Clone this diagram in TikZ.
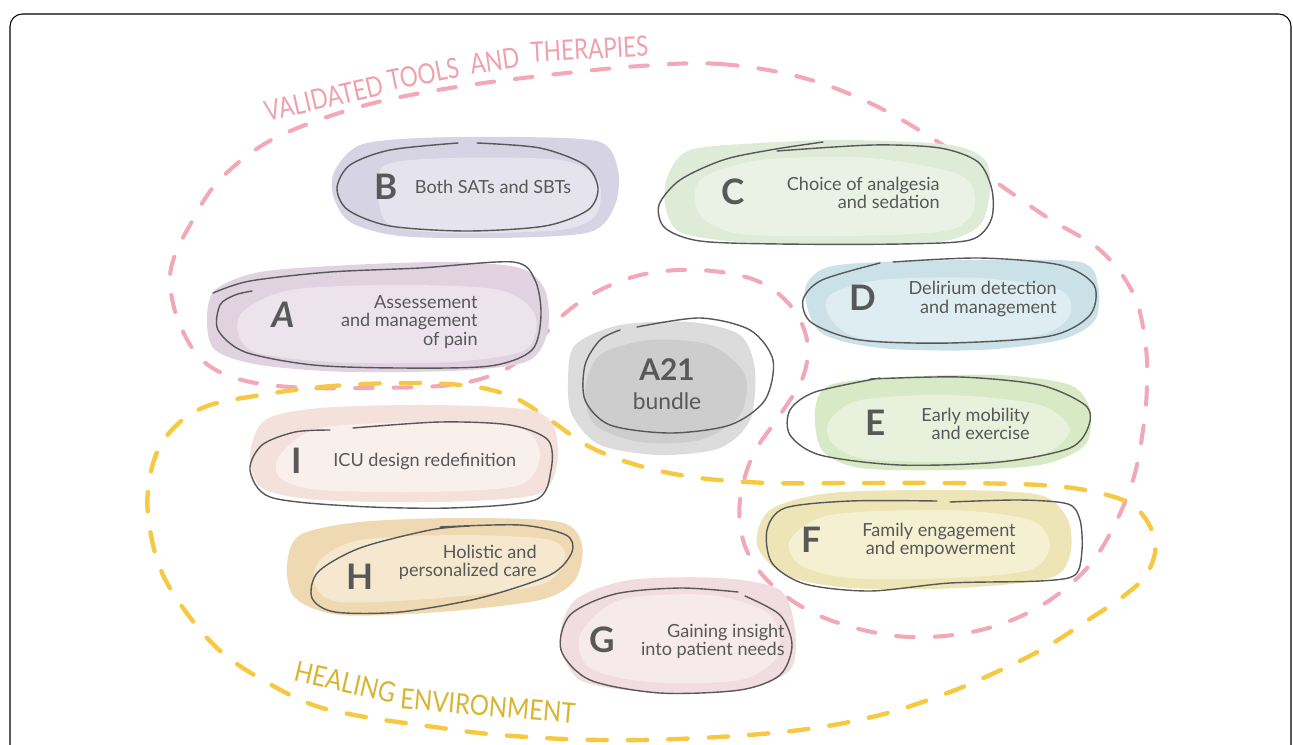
\documentclass[tikz,border=0pt]{standalone}
\usepackage{fontspec}
\setmainfont{Lato}
\definecolor{inkgray}{HTML}{585858}
\definecolor{pinkline}{HTML}{F2A8B7}
\definecolor{pinktext}{HTML}{EFA0B0}
\definecolor{yellowline}{HTML}{F7C943}
\definecolor{yellowtext}{HTML}{D8B433}
\definecolor{blobBdark}{HTML}{D5D3E4}
\definecolor{blobBlight}{HTML}{E4E3EE}
\definecolor{blobCdark}{HTML}{DDEBD7}
\definecolor{blobClight}{HTML}{E9F2E4}
\definecolor{blobAdark}{HTML}{E0D2E1}
\definecolor{blobAlight}{HTML}{ECE3EC}
\definecolor{blobDdark}{HTML}{CBE1E8}
\definecolor{blobDlight}{HTML}{DEEDF1}
\definecolor{blobEdark}{HTML}{D8E9C5}
\definecolor{blobElight}{HTML}{E7F1DB}
\definecolor{blobFdark}{HTML}{EDE5B5}
\definecolor{blobFlight}{HTML}{F5F0D2}
\definecolor{blobGdark}{HTML}{F1DCE1}
\definecolor{blobGlight}{HTML}{F7EAED}
\definecolor{blobHdark}{HTML}{EED9B3}
\definecolor{blobHlight}{HTML}{F5E8CE}
\definecolor{blobIdark}{HTML}{F4E1DB}
\definecolor{blobIlight}{HTML}{F9EFEB}
\definecolor{blobXdark}{HTML}{DCDCDC}
\definecolor{blobXlight}{HTML}{CDCDCD}

\begin{document}
\begin{tikzpicture}[x=0.02cm, y=-0.02cm,
    outline/.style={draw=inkgray, line width=0.8pt, line cap=round},
    letter/.style={text=inkgray, font=\fontsize{20}{20}\selectfont\bfseries, inner sep=0pt},
    itemtext/.style={text=inkgray, font=\fontsize{10.3}{10.3}\selectfont, align=right, inner sep=0pt},
    pinkword/.style={text=pinktext, font=\fontsize{16}{16}\selectfont, anchor=base, inner sep=0pt},
    yellowword/.style={text=yellowtext, font=\fontsize{16}{16}\selectfont, anchor=base, inner sep=0pt},
    pinkdash/.style={draw=pinkline, line width=2.3pt, line cap=round, dash pattern=on 10pt off 12pt},
    yellowdash/.style={draw=yellowline, line width=2.5pt, line cap=round, dash pattern=on 11pt off 12pt}]
  \useasboundingbox (0,0) rectangle (1293,744);
  \clip (0,0) rectangle (1293,744);
  \draw[black, line width=0.6pt, rounded corners=7pt] (10,14) rectangle (1291,790);

  % the two dashed areas
  \draw[pinkdash] plot[smooth cycle, tension=0.6] coordinates {
    (640,66) (720,64) (800,77) (870,103) (935,140) (990,178) (1048,218) (1100,250)
    (1133,293) (1145,340) (1147,385) (1143,430) (1133,480) (1112,530) (1087,568)
    (1050,600) (1007,622) (960,634) (910,637) (863,630) (820,616) (787,597) (760,572)
    (743,540) (740,500) (753,455) (780,415) (803,377) (807,340) (790,305) (755,280)
    (700,270) (645,274) (600,290) (563,315) (530,350) (500,372) (450,385) (370,388)
    (290,387) (235,378) (200,358) (178,320) (170,282) (175,255) (190,225) (215,185)
    (255,150) (300,127) (370,104) (450,88) (540,76)};
  \draw[yellowdash] plot[smooth cycle, tension=0.6] coordinates {
    (255,396) (320,387) (400,383) (470,386) (515,398) (550,420) (590,447) (640,466)
    (700,478) (770,483) (850,483) (950,483) (1040,485) (1095,492) (1135,507)
    (1155,540) (1148,572) (1125,595) (1088,620) (1048,646) (1005,668) (950,692)
    (880,715) (800,730) (700,738) (600,740) (500,735) (420,725) (360,716) (313,705)
    (268,683) (225,655) (192,620) (163,575) (150,530) (148,490) (158,450) (180,422)
    (210,405)};
  \node[pinkword, rotate=13, xscale=0.8] (validated) at (326,108) {VALIDATED};
  \node[pinkword, rotate=11, xscale=0.8] (tools) at (425,84) {TOOLS};
  \node[pinkword, rotate=8, xscale=0.8] (andword) at (496,71) {AND};
  \node[pinkword, rotate=3, xscale=0.8] (therapies) at (590,59) {THERAPIES};
  \node[yellowword, rotate=-13, xscale=0.85] (healing) at (343,692) {HEALING};
  \node[yellowword, rotate=-5, xscale=0.85] (environment) at (487,716) {ENVIRONMENT};

  % B
  \fill[blobBdark] plot[smooth cycle] coordinates {(335,170) (360,145) (420,138) (520,137)
    (600,142) (618,170) (615,205) (590,232) (500,238) (400,236) (350,222) (333,195)};
  \fill[blobBlight] plot[smooth cycle] coordinates {(385,165) (450,158) (560,160) (598,180)
    (596,215) (560,230) (450,233) (390,225) (378,195)};
  \draw[outline] plot[smooth] coordinates {(477,143) (540,148) (585,165) (598,188) (588,210)
    (545,226) (467,231) (390,226) (348,210) (337,188) (350,165) (390,150) (458,143)};
  \node[letter] (letB) at (386,187) {B};
  \node[itemtext] (txtB) at (493,187) {Both SATs and SBTs};

  % C
  \fill[blobCdark] plot[smooth cycle] coordinates {(668,175) (690,150) (760,143) (850,140)
    (950,145) (985,160) (990,190) (980,225) (940,242) (850,245) (740,242) (680,232) (665,205)};
  \fill[blobClight] plot[smooth cycle] coordinates {(700,180) (760,160) (870,158) (960,175)
    (975,205) (950,230) (850,236) (740,234) (700,215)};
  \draw[outline] plot[smooth] coordinates {(823,142) (770,150) (723,160) (680,180) (659,205)
    (665,228) (700,241) (780,244) (900,244) (970,240) (991,220) (992,190) (978,162)
    (940,148) (873,145) (777,151)};
  \node[letter] (letC) at (733,192) {C};
  \node[itemtext, anchor=east] (txtC) at (940,193) {Choice of analgesia\\and sedation};

  % A
  \fill[blobAdark] plot[smooth cycle] coordinates {(207,320) (215,290) (260,272) (350,265)
    (450,262) (520,268) (545,290) (548,330) (530,360) (470,370) (350,372) (260,365) (215,350)};
  \fill[blobAlight] plot[smooth cycle] coordinates {(240,315) (290,290) (400,285) (500,290)
    (535,315) (525,350) (450,362) (330,362) (250,350)};
  \draw[outline] plot[smooth] coordinates {(213,293) (250,281) (330,272) (420,268) (513,262)
    (535,280) (541,315) (532,350) (490,366) (400,368) (313,365) (245,352) (218,330)
    (220,305) (235,295) (252,291)};
  \node[letter, font=\fontsize{20}{20}\selectfont\bfseries\itshape] (letA) at (283,315) {A};
  \node[itemtext, anchor=east] (txtA) at (478,322) {Assessement\\and management\\of pain};

  % D
  \fill[blobDdark] plot[smooth cycle] coordinates {(805,290) (825,268) (880,262) (980,260)
    (1080,262) (1098,285) (1095,320) (1060,340) (980,350) (880,348) (820,332)};
  \fill[blobDlight] plot[smooth cycle] coordinates {(830,295) (880,280) (980,278) (1060,290)
    (1070,315) (1040,335) (950,342) (860,338) (830,318)};
  \draw[outline] plot[smooth] coordinates {(893,262) (980,258) (1060,265) (1094,285)
    (1090,315) (1050,336) (950,343) (860,340) (812,323) (803,300) (822,280) (880,263)};
  \node[letter] (letD) at (863,298) {D};
  \node[itemtext, anchor=east] (txtD) at (1057,299) {Delirium detection\\and management};

  % A21 bundle
  \fill[blobXdark] plot[smooth cycle] coordinates {(568,380) (575,345) (620,325) (690,322)
    (740,335) (755,370) (750,420) (720,448) (660,455) (600,445) (572,415)};
  \fill[blobXlight] plot[smooth cycle] coordinates {(585,390) (600,355) (650,340) (710,345)
    (745,375) (740,415) (700,440) (640,442) (595,425)};
  \draw[outline] plot[smooth] coordinates {(637,327) (700,318) (750,330) (773,360) (765,400)
    (730,425) (670,433) (610,425) (585,400) (585,365) (600,340) (620,330)};
  \node[text=inkgray, font=\fontsize{17}{17}\selectfont\bfseries] (bundleA) at (667,370) {A21};
  \node[text=inkgray, font=\fontsize{13}{13}\selectfont] (bundleB) at (667,401) {bundle};

  % E
  \fill[blobEdark] plot[smooth cycle] coordinates {(815,410) (830,385) (900,377) (1000,375)
    (1070,385) (1090,410) (1085,445) (1040,465) (950,470) (860,468) (822,450)};
  \fill[blobElight] plot[smooth cycle] coordinates {(830,420) (860,400) (950,395) (1040,405)
    (1070,430) (1040,455) (950,462) (860,458) (830,440)};
  \draw[outline] plot[smooth] coordinates {(870,379) (960,377) (1040,385) (1085,405)
    (1089,425) (1070,448) (1000,462) (900,465) (820,455) (790,435) (790,410) (815,392) (880,378)};
  \node[letter] (letE) at (876,423) {E};
  \node[itemtext, anchor=east] (txtE) at (1030,424) {Early mobility\\and exercise};

  % I
  \fill[blobIdark] plot[smooth cycle] coordinates {(250,455) (265,420) (320,408) (430,405)
    (530,410) (555,430) (556,470) (535,495) (440,502) (320,500) (262,488)};
  \fill[blobIlight] plot[smooth cycle] coordinates {(280,455) (320,428) (430,422) (520,428)
    (540,455) (520,485) (430,492) (320,490) (280,478)};
  \draw[outline] plot[smooth] coordinates {(353,428) (440,422) (510,425) (548,440) (551,470)
    (535,500) (450,508) (350,506) (270,497) (250,470) (262,445) (295,432) (330,430)};
  \node[letter] (letI) at (297,461) {I};
  \node[itemtext, anchor=west] (txtI) at (333,461) {ICU design redefinition};

  % F
  \fill[blobFdark] plot[smooth cycle] coordinates {(757,545) (770,510) (830,493) (950,490)
    (1040,495) (1068,520) (1070,555) (1050,578) (960,588) (850,588) (785,575)};
  \fill[blobFlight] plot[smooth cycle] coordinates {(790,540) (830,515) (950,510) (1030,520)
    (1050,545) (1030,570) (950,578) (850,578) (800,565)};
  \draw[outline] plot[smooth] coordinates {(950,502) (1020,500) (1068,504) (1080,520)
    (1082,550) (1075,575) (1040,581) (950,583) (870,591) (805,584) (772,563) (767,530)
    (785,508) (850,501) (937,501)};
  \node[letter] (letF) at (811,540) {F};
  \node[itemtext, anchor=east] (txtF) at (1016,540) {Family engagement\\and empowerment};

  % H
  \fill[blobHdark] plot[smooth cycle] coordinates {(287,565) (300,535) (360,522) (460,518)
    (560,522) (582,545) (575,580) (540,600) (440,612) (340,615) (295,598)};
  \fill[blobHlight] plot[smooth cycle] coordinates {(320,560) (360,540) (460,535) (550,540)
    (565,560) (540,585) (440,598) (340,602) (315,585)};
  \draw[outline] plot[smooth] coordinates {(440,527) (520,525) (566,535) (572,552) (550,575)
    (480,598) (400,612) (335,612) (312,598) (318,572) (360,548) (430,530) (470,526)};
  \node[letter] (letH) at (360,577) {H};
  \node[itemtext, anchor=east] (txtH) at (537,562) {Holistic and\\personalized care};

  % G
  \fill[blobGdark] plot[smooth cycle] coordinates {(560,640) (575,600) (630,580) (720,578)
    (780,590) (795,630) (790,670) (740,690) (650,692) (580,680)};
  \fill[blobGlight] plot[smooth cycle] coordinates {(580,635) (620,600) (710,595) (770,615)
    (778,655) (740,680) (650,682) (590,668)};
  \draw[outline] plot[smooth] coordinates {(745,596) (780,615) (792,645) (780,675) (740,690)
    (660,693) (590,680) (561,650) (570,615) (615,594) (680,588) (738,592)};
  \node[letter] (letG) at (602,640) {G};
  \node[itemtext, anchor=east] (txtG) at (785,641) {Gaining insight\\into patient needs};
\end{tikzpicture}
\end{document}
